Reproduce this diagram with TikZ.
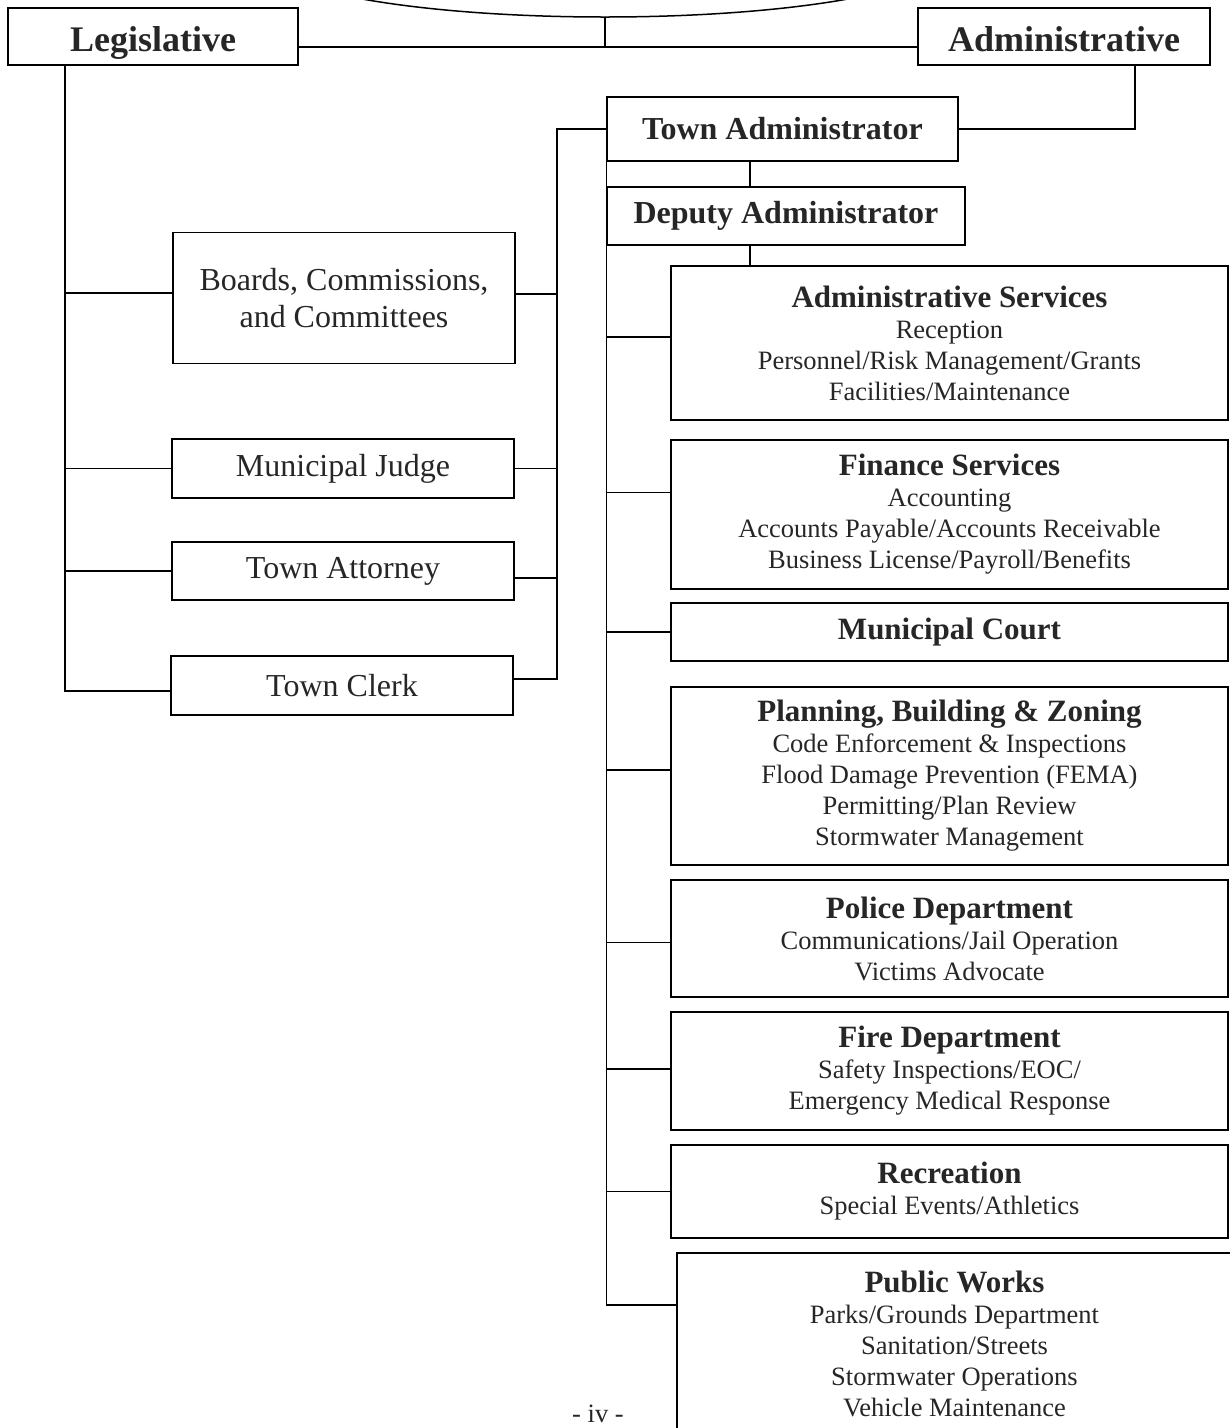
\documentclass[tikz,border=0pt]{standalone}
\usepackage{fontspec}
\setmainfont{Liberation Serif}
\usepackage{tikz}
\usetikzlibrary{shapes.geometric}
\tikzset{
  unit/.style={draw, line width=1.5pt, align=center, inner sep=0pt, text=black!85},
  branch/.style={unit, text height=33pt, text depth=4pt, font=\fontsize{36}{42}\selectfont\bfseries},
  office/.style={unit, font=\fontsize{32}{37}\selectfont\bfseries},
  staff/.style={unit, minimum width=342pt, font=\fontsize{32}{37}\selectfont},
  dept/.style={unit, minimum width=557pt, font=\fontsize{26.5}{31}\selectfont},
}
\newcommand{\depthead}[1]{{\fontsize{31}{34}\selectfont\bfseries #1}}
\begin{document}
\begin{tikzpicture}[x=1pt, y=-1pt, line width=1.5pt]
\useasboundingbox (0,0) rectangle (1230,1428);
\node[draw, ellipse, line width=1.5pt, minimum width=680pt, minimum height=120pt] (council) at (605,-43) {};
\node[branch, minimum width=290pt, minimum height=57pt] (leg) at (153,36.5) {Legislative};
\node[branch, minimum width=292pt, minimum height=57pt] (adm) at (1064,36.5) {Administrative};
\node[office, minimum width=351pt, minimum height=64pt] (tadm) at (782.5,129) {Town Administrator};
\node[office, minimum width=358pt, minimum height=58pt] (dadm) at (786,216) {Deputy Administrator};
\node[staff, minimum height=131pt] (boards) at (344,298) {Boards, Commissions,\\and Committees};
\node[staff, minimum height=59pt] (judge) at (343,468.5) {Municipal Judge};
\node[staff, minimum height=58pt] (atty) at (343,571) {Town Attorney};
\node[staff, minimum height=59pt] (clerk) at (342,685.5) {Town Clerk};
\node[dept, minimum height=154pt] (admsvc) at (949.5,343) {\depthead{Administrative Services}\\Reception\\Personnel/Risk Management/Grants\\Facilities/Maintenance};
\node[dept, minimum height=149pt] (finsvc) at (949.5,514.5) {\depthead{Finance Services}\\Accounting\\Accounts Payable/Accounts Receivable\\Business License/Payroll/Benefits};
\node[dept, minimum height=58pt] (court) at (949.5,632) {\depthead{Municipal Court}};
\node[dept, minimum height=178pt] (plan) at (949.5,776) {\depthead{Planning, Building \& Zoning}\\Code Enforcement \& Inspections\\Flood Damage Prevention (FEMA)\\Permitting/Plan Review\\Stormwater Management};
\node[dept, minimum height=117pt] (police) at (949.5,938.5) {\depthead{Police Department}\\Communications/Jail Operation\\Victims Advocate};
\node[dept, minimum height=118pt] (fire) at (949.5,1071) {\depthead{Fire Department}\\Safety Inspections/EOC/\\Emergency Medical Response};
\node[dept, minimum height=93pt] (rec) at (949.5,1191.5) {\depthead{Recreation}\\Special Events/Athletics};
\node[dept, minimum width=555pt, minimum height=182pt] (works) at (954.5,1344) {\depthead{Public Works}\\Parks/Grounds Department\\Sanitation/Streets\\Stormwater Operations\\Vehicle Maintenance};
\node[inner sep=0pt, text=black!85, font=\fontsize{26.5}{31}\selectfont] (page) at (598,1414) {- iv -};
\coordinate (join) at (605,47);
\coordinate (lbus) at (65,0);
\coordinate (rbus) at (557,0);
\coordinate (abus) at (1135,0);
\coordinate (cbus) at (750,0);
\coordinate (wjoin) at ([yshift=39pt]works.west);
\coordinate (cleft) at ([yshift=-5.5pt]clerk.west);
\coordinate (cright) at ([yshift=6.5pt]clerk.east);
\draw (council.south) -- (join);
\draw (leg.east |- join) -- (adm.west |- join);
\draw (leg.south -| lbus) -- (lbus |- cleft) -- (cleft);
\foreach \n/\s in {boards/5,judge/0,atty/0}
  \draw ([yshift=\s pt]\n.west) -- ([yshift=\s pt]\n.west -| lbus);
\draw (tadm.west) -| (rbus |- cright) -- (cright);
\foreach \n/\s in {boards/4,judge/0,atty/-7}
  \draw ([yshift=\s pt]\n.east) -- ([yshift=\s pt]\n.east -| rbus);
\draw (tadm.east) -| (abus |- adm.south);
\draw (cbus |- tadm.south) -- (cbus |- dadm.north);
\draw (cbus |- dadm.south) -- (cbus |- admsvc.north);
\draw (tadm.south west) -- (tadm.south west |- wjoin) -- (wjoin);
\foreach \n/\s in {admsvc/6,finsvc/22,court/0,plan/6,police/-4,fire/2,rec/0}
  \draw ([yshift=\s pt]\n.west) -- ([yshift=\s pt]\n.west -| tadm.south west);
\end{tikzpicture}
\end{document}
